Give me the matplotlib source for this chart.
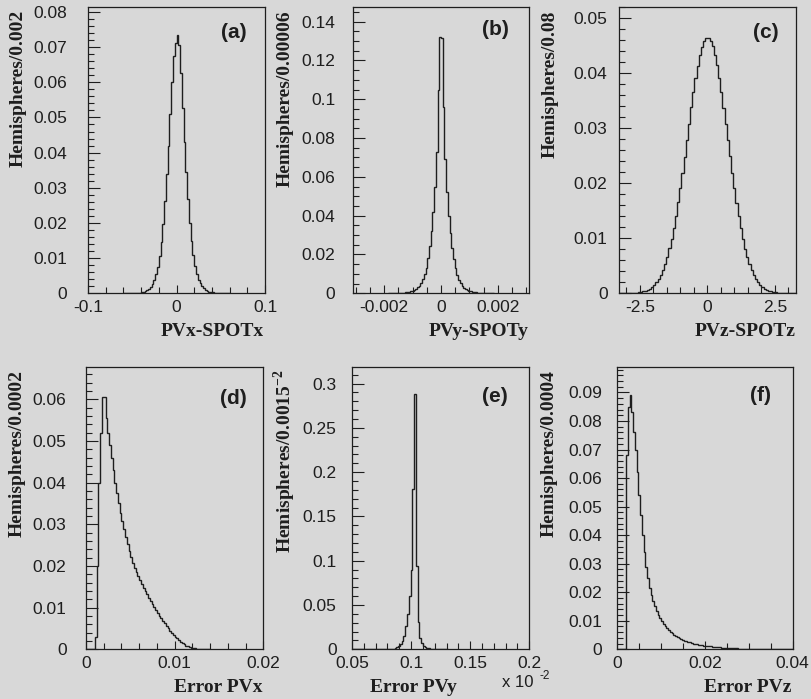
import numpy as np
import matplotlib
matplotlib.use('Agg')
import matplotlib.pyplot as plt
from matplotlib.ticker import MultipleLocator, FuncFormatter

plt.rcParams['font.family'] = ['Liberation Sans', 'DejaVu Sans']
plt.rcParams['mathtext.fontset'] = 'custom'
plt.rcParams['mathtext.rm'] = 'Liberation Serif'
plt.rcParams['mathtext.bf'] = 'Liberation Serif:bold'

BG = '#d8d8d8'
INK = '#1e1e1e'

# (a) PVx-SPOTx, bins of 0.002
pvx_start = -0.06
pvx_width = 0.002
pvx_values = [0.00002, 0.00003, 0.00003, 0.00004, 0.00005, 0.00006, 0.00008, 0.0001, 0.00014, 0.0002,
              0.0003, 0.0004, 0.0006, 0.0009, 0.0013, 0.0019, 0.0027, 0.0038, 0.0054, 0.0076,
              0.0106, 0.0146, 0.0196, 0.0262, 0.0338, 0.0418, 0.0510, 0.0600, 0.0675, 0.0712,
              0.0733, 0.0705, 0.0625, 0.0528, 0.0430, 0.0345, 0.0268, 0.0200, 0.0148, 0.0108,
              0.0078, 0.0055, 0.0039, 0.0028, 0.0020, 0.0014, 0.0010, 0.0007, 0.0005, 0.00035,
              0.00025, 0.00018, 0.00012, 0.00009, 0.00006, 0.00005, 0.00004, 0.00003, 0.00002, 0.00002]

# (b) PVy-SPOTy, bins of 0.00006
pvy_start = -0.00186
pvy_width = 0.00006
pvy_values = [0.00002, 0.00003, 0.00004, 0.00006, 0.00009, 0.00012, 0.00016, 0.00021, 0.00028, 0.00036,
              0.00046, 0.0006, 0.0008, 0.0011, 0.0014, 0.0018, 0.0023, 0.0030, 0.0040, 0.0054,
              0.0072, 0.0097, 0.0132, 0.0180, 0.0242, 0.032, 0.042, 0.055, 0.073, 0.105,
              0.1320, 0.1315, 0.096, 0.069, 0.052, 0.040, 0.031, 0.0235, 0.0175, 0.0128,
              0.0094, 0.0070, 0.0052, 0.0039, 0.0029, 0.0022, 0.0017, 0.0013, 0.0010, 0.0008,
              0.0006, 0.00045, 0.00035, 0.00027, 0.0002, 0.00015, 0.00011, 0.00008, 0.00006, 0.00004,
              0.00003, 0.00002]

# (c) PVz-SPOTz, bins of 0.08
pvz_start = -3.28
pvz_width = 0.08
pvz_values = [0.0, 0.0, 0.00001, 0.00001, 0.00002, 0.00003, 0.00005, 0.00008, 0.00011, 0.00016,
              0.00023, 0.00033, 0.00046, 0.00063, 0.00085, 0.00116, 0.00152, 0.00203, 0.00259, 0.00337,
              0.00424, 0.00537, 0.00662, 0.00816, 0.00985, 0.01188, 0.01402, 0.01652, 0.01908, 0.02195,
              0.02480, 0.02787, 0.03079, 0.03380, 0.03652, 0.03918, 0.04140, 0.04340, 0.04485, 0.04594,
              0.04640,
              0.04646, 0.04588, 0.04491, 0.04334, 0.04147, 0.03912, 0.03660, 0.03372, 0.03087, 0.02779,
              0.02488, 0.02187, 0.01916, 0.01645, 0.01410, 0.01182, 0.00991, 0.00812, 0.00666, 0.00533,
              0.00428, 0.00333, 0.00263, 0.00199, 0.00154, 0.00114, 0.00085, 0.00063, 0.00046, 0.00033,
              0.00023, 0.00016, 0.00011, 0.00008, 0.00005, 0.00003, 0.00002, 0.00001, 0.00001, 0.0,
              0.0]

# (d) Error PVx, bins of 0.0002
epvx_start = 0.0
epvx_width = 0.0002
epvx_values = [0.0, 0.0, 0.0, 0.0, 0.0, 0.003, 0.020, 0.040, 0.052, 0.0605,
               0.0605, 0.0555, 0.052, 0.049, 0.046, 0.043, 0.040, 0.0375, 0.035, 0.0328,
               0.0307, 0.0288, 0.027, 0.0253, 0.0237, 0.0222, 0.0207, 0.0196, 0.0186, 0.0176,
               0.0166, 0.0157, 0.0148, 0.0140, 0.0132, 0.0124, 0.0116, 0.0109, 0.0102, 0.0095,
               0.0088, 0.0081, 0.0075, 0.0069, 0.0063, 0.0057, 0.0051, 0.0045, 0.0040, 0.0035,
               0.0030, 0.0026, 0.0022, 0.0018, 0.0015, 0.0012, 0.0009, 0.0007, 0.0005, 0.0004,
               0.0003, 0.0002, 0.00015, 0.0001, 0.00007, 0.00005, 0.00003, 0.00002, 0.00001, 0.00001]

# (e) Error PVy (x 10^-2), bins of 0.0015
epvy_start = 0.05
epvy_width = 0.0015
epvy_values = [0.0, 0.0, 0.0, 0.0, 0.0, 0.0, 0.0, 0.0, 0.0, 0.0,
               0.0, 0.0, 0.0, 0.0, 0.0, 0.0, 0.0, 0.00005, 0.0001, 0.00015,
               0.00025, 0.0004, 0.0006, 0.0009, 0.0014, 0.0022, 0.0035, 0.0055, 0.009, 0.015,
               0.026, 0.040, 0.060, 0.090, 0.181, 0.288, 0.094, 0.031, 0.013, 0.007,
               0.004, 0.0025, 0.0016, 0.001, 0.0007, 0.0005, 0.00035, 0.00025, 0.00018, 0.00012,
               0.00008, 0.00005, 0.00003, 0.00002]

# (f) Error PVz, bins of 0.0004
epvz_start = 0.0
epvz_width = 0.0004
epvz_values = [0.0, 0.0, 0.0, 0.0, 0.0, 0.068, 0.085, 0.089, 0.083, 0.076,
               0.070, 0.062, 0.054, 0.047, 0.040, 0.034, 0.029, 0.025, 0.0215, 0.019,
               0.0168, 0.015, 0.0134, 0.012, 0.0108, 0.0098, 0.0089, 0.0081, 0.0074, 0.0067,
               0.0061, 0.0056, 0.0051, 0.0047, 0.0043, 0.0039, 0.0036, 0.0033, 0.0030, 0.0028,
               0.0026, 0.0024, 0.0022, 0.0020, 0.0019, 0.0017, 0.0016, 0.0015, 0.0014, 0.0013,
               0.0012, 0.0011, 0.00105, 0.001, 0.00093, 0.00087, 0.0008, 0.00074, 0.00068, 0.00063,
               0.00058, 0.00053, 0.00049, 0.00045, 0.00041, 0.00038, 0.00035, 0.00032, 0.00029, 0.00027,
               0.00025, 0.00023, 0.00021, 0.00019, 0.00017, 0.00016, 0.00015, 0.00014, 0.00013, 0.00012,
               0.00011, 0.0001, 0.00009, 0.00009, 0.00008, 0.00007, 0.00007, 0.00006, 0.00006, 0.00005,
               0.00005, 0.00004, 0.00004, 0.00003, 0.00003, 0.00003, 0.00002, 0.00002, 0.00002, 0.00002]

# axis ticks / labels
a_xticks = [-0.1, 0, 0.1]
a_yticks = [0, 0.01, 0.02, 0.03, 0.04, 0.05, 0.06, 0.07, 0.08]
b_xticks = [-0.002, 0, 0.002]
b_yticks = [0, 0.02, 0.04, 0.06, 0.08, 0.1, 0.12, 0.14]
c_xticks = [-2.5, 0, 2.5]
c_yticks = [0, 0.01, 0.02, 0.03, 0.04, 0.05]
d_xticks = [0, 0.01, 0.02]
d_yticks = [0, 0.01, 0.02, 0.03, 0.04, 0.05, 0.06]
e_xticks = [0.05, 0.1, 0.15, 0.2]
e_yticks = [0, 0.05, 0.1, 0.15, 0.2, 0.25, 0.3]
f_xticks = [0, 0.02, 0.04]
f_yticks = [0, 0.01, 0.02, 0.03, 0.04, 0.05, 0.06, 0.07, 0.08, 0.09]

W, H = 812, 699
fig = plt.figure(figsize=(W / 100, H / 100), dpi=100)
fig.patch.set_facecolor(BG)

fmt = FuncFormatter(lambda v, p: f'{v:g}')
serif_bold = dict(family='Liberation Serif', weight='bold', color=INK)


def panel(box, start, width, values, xlim, ylim, xticks, yticks, xminor, yminor,
          ylabel, xlabel, tag, ypad, lab_x, tag_xy, xlab_right=None):
    # box given in pixels: left, right, top, bottom
    l, r, t, b = box
    ax = fig.add_axes([l / W, (H - b) / H, (r - l) / W, (b - t) / H])
    ax.set_facecolor(BG)
    edges = start + width * np.arange(len(values) + 1)
    ax.stairs(values, edges, color=INK, lw=1.0)
    ax.set_xlim(*xlim)
    ax.set_ylim(*ylim)
    ax.set_xticks(xticks)
    ax.set_yticks(yticks)
    ax.xaxis.set_minor_locator(MultipleLocator(xminor))
    ax.yaxis.set_minor_locator(MultipleLocator(yminor))
    ax.xaxis.set_major_formatter(fmt)
    ax.yaxis.set_major_formatter(fmt)
    for s in ax.spines.values():
        s.set_linewidth(0.9)
        s.set_color(INK)
    ax.tick_params(which='both', direction='in', top=False, right=False,
                   colors=INK, width=0.8, labelsize=12.5)
    ax.tick_params(axis='y', which='major', length=8.5, pad=ypad)
    ax.tick_params(axis='y', which='minor', length=4.5)
    ax.tick_params(axis='x', which='major', length=6, pad=5)
    ax.tick_params(axis='x', which='minor', length=4)
    ax.text(lab_x, 0.99, ylabel, rotation=90, ha='center', va='top',
            transform=ax.transAxes, fontsize=14, **serif_bold)
    xr = 0.995 if xlab_right is None else xlab_right
    ax.text(xr, -0.134, xlabel, ha='right', va='center',
            transform=ax.transAxes, fontsize=14, **serif_bold)
    ax.text(tag_xy[0], tag_xy[1], tag, ha='center', va='center', transform=ax.transAxes,
            fontsize=15, fontweight='bold', color=INK)
    return ax


panel((88, 265, 7, 293.3), pvx_start, pvx_width, pvx_values, (-0.1, 0.1), (0, 0.0814),
      a_xticks, a_yticks, 0.02, 0.002, 'Hemispheres/0.002', 'PVx-SPOTx', '(a)',
      15, -0.395, (0.825, 0.912))
panel((352.7, 529.3, 7.3, 293.3), pvy_start, pvy_width, pvy_values, (-0.0031, 0.0031), (0, 0.1474),
      b_xticks, b_yticks, 0.0005, 0.005, 'Hemispheres/0.00006', 'PVy-SPOTy', '(b)',
      12.5, -0.383, (0.811, 0.921))
panel((618.7, 796, 7.3, 293.3), pvz_start, pvz_width, pvz_values, (-3.28, 3.28), (0, 0.052),
      c_xticks, c_yticks, 0.5, 0.002, 'Hemispheres/0.08', 'PVz-SPOTz', '(c)',
      8, -0.387, (0.831, 0.913))
panel((86, 263.3, 366.7, 649.3), epvx_start, epvx_width, epvx_values, (0, 0.02), (0, 0.0678),
      d_xticks, d_yticks, 0.002, 0.002, 'Hemispheres/0.0002', 'Error PVx', '(d)',
      14, -0.386, (0.829, 0.889))
ax_e = panel((352, 529.3, 366.7, 649.3), epvy_start, epvy_width, epvy_values, (0.05, 0.2), (0, 0.319),
             e_xticks, e_yticks, 0.01, 0.01, r'Hemispheres/0.0015$^{\mathbf{-2}}$', 'Error PVy', '(e)',
             11, -0.378, (0.807, 0.893), xlab_right=0.592)
ax_e.text(0.936, -0.119, 'x 10', ha='center', va='center', transform=ax_e.transAxes,
          fontsize=12, color=INK)
ax_e.text(1.089, -0.096, '-2', ha='center', va='center', transform=ax_e.transAxes,
          fontsize=8.5, color=INK)
panel((617.3, 792.7, 367.3, 649.3), epvz_start, epvz_width, epvz_values, (0, 0.04), (0, 0.0988),
      f_xticks, f_yticks, 0.005, 0.002, 'Hemispheres/0.0004', 'Error PVz', '(f)',
      11, -0.389, (0.818, 0.899))

fig.savefig('out.png', dpi=100, facecolor=BG)
